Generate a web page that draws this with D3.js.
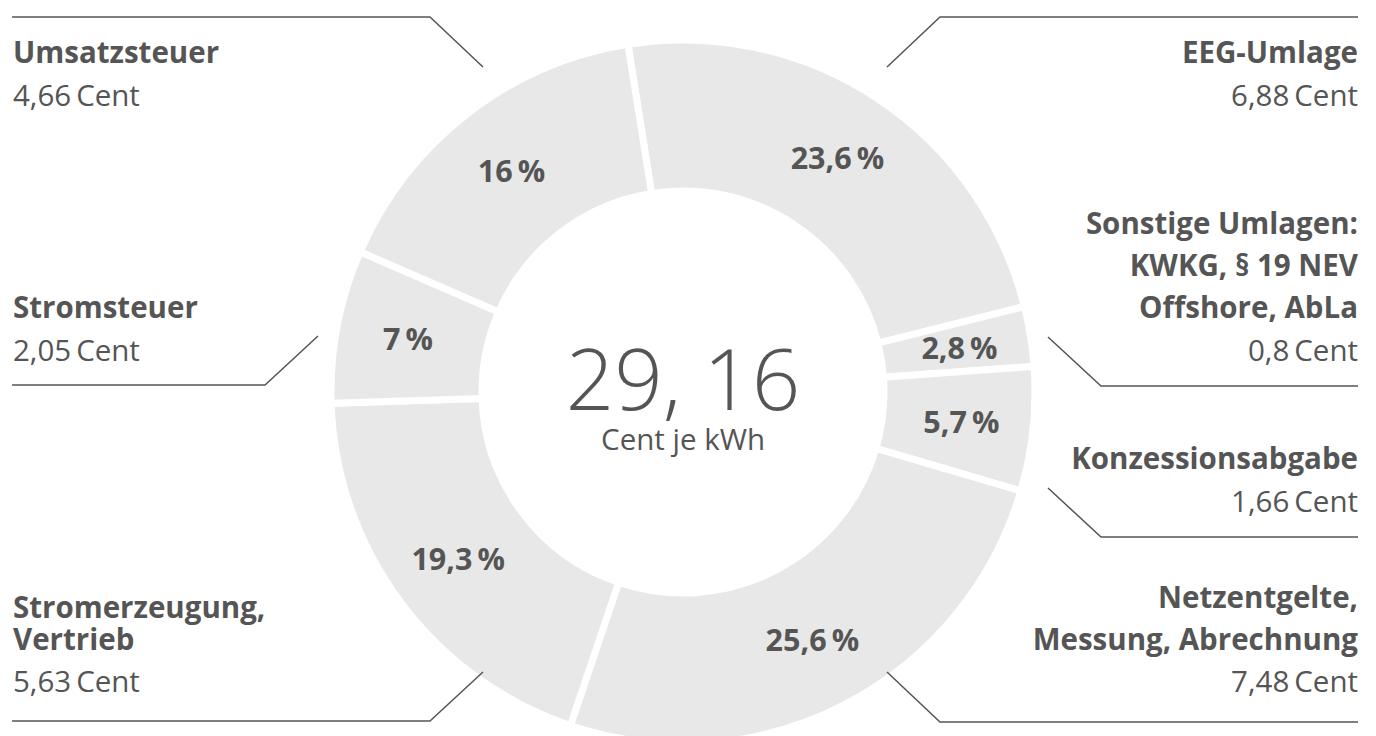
<!DOCTYPE html>
<html>
<head>
<meta charset="utf-8">
<script src="https://cdn.jsdelivr.net/npm/d3@7"></script>
<style>
  html, body { margin: 0; padding: 0; background: #fff; }
  svg text { font-family: "Open Sans", "Noto Sans", sans-serif; fill: #555555; }
  .title { font-weight: 700; font-size: 29.5px; }
  .cent { font-weight: 400; font-size: 29.5px; }
  .pct { font-weight: 700; font-size: 30.5px; }
</style>
</head>
<body>
<div class="graph"></div>
<script>
// data ------------------
const names = [
    ["EEG-Umlage"],
    ["Sonstige Umlagen:", "KWKG, § 19 NEV", "Offshore, AbLa"],
    ["Konzessionsabgabe"],
    ["Netzentgelte,", "Messung, Abrechnung"],
    ["Stromerzeugung,", "Vertrieb"],
    ["Stromsteuer"],
    ["Umsatzsteuer"]
]
const cents = [6.88, 0.8, 1.66, 7.48, 5.63, 2.05, 4.66]
const shares = [23.6, 2.8, 5.7, 25.6, 19.3, 7, 16]
const totalLabel = "29, 16"
const unitLabel = "Cent je kWh"

// layout of the callouts (tip near the ring, text baselines)
const callouts = [
    {side: "right", tip: [887, 67],   elbowY: 17,  lines: [63],            centY: 106},
    {side: "right", tip: [1048, 337], elbowY: 386, lines: [234, 276, 318], centY: 361},
    {side: "right", tip: [1048, 488], elbowY: 537, lines: [469],           centY: 512},
    {side: "right", tip: [887, 672],  elbowY: 722, lines: [608, 650],      centY: 692},
    {side: "left",  tip: [483, 672],  elbowY: 721, lines: [618, 650],      centY: 692},
    {side: "left",  tip: [318, 336],  elbowY: 385, lines: [318],           centY: 361},
    {side: "left",  tip: [483, 67],   elbowY: 17,  lines: [63],            centY: 106}
]

// config
const w = 1376
const h = 736
const cx = 683
const cy = 392
const rOuter = 352
const rInner = 201
const startAngle = -0.157
const colours = { slice: "#e8e8e8", line: "#555555" }

const rows = names.map((n, i) => ({name: n, cent: cents[i], share: shares[i], callout: callouts[i]}))

const pie = d3.pie()
    .value(d => d.cent)
    .sort(null)
    .startAngle(startAngle)
    .endAngle(startAngle + 2 * Math.PI)

const arc = d3.arc()
    .innerRadius(rInner)
    .outerRadius(rOuter)

const labelArc = d3.arc()
    .innerRadius(280)
    .outerRadius(280)

const fmt = v => String(v).replace(".", ",")

const svg = d3.select('.graph')
    .append('svg')
    .attr('width', w)
    .attr('height', h)
    .attr('viewBox', "0 0 " + w + " " + h)

const ring = svg.append('g')
    .attr('transform', 'translate(' + cx + ',' + cy + ')')

ring.selectAll('path.slice')
    .data(pie(rows))
    .join('path')
    .attr('class', 'slice')
    .attr('d', arc)
    .attr('fill', colours.slice)
    .attr('stroke', '#fff')
    .attr('stroke-width', 7)

ring.selectAll('text.pct')
    .data(pie(rows))
    .join('text')
    .attr('class', 'pct')
    .attr('transform', d => 'translate(' + labelArc.centroid(d) + ')')
    .attr('text-anchor', 'middle')
    .attr('dy', '0.36em')
    .text(d => fmt(d.data.share) + "\u2009%")

// centre total
ring.append('text')
    .attr('text-anchor', 'middle')
    .attr('y', 18)
    .style('font-size', '85px')
    .style('font-weight', 300)
    .text(totalLabel)

ring.append('text')
    .attr('text-anchor', 'middle')
    .attr('y', 58)
    .style('font-size', '29.5px')
    .style('font-weight', 400)
    .text(unitLabel)

// callouts
const left = 12
const right = 1358
const callout = svg.append('g')

callout.selectAll('path.leader')
    .data(rows)
    .join('path')
    .attr('class', 'leader')
    .attr('fill', 'none')
    .attr('stroke', colours.line)
    .attr('stroke-width', 1.5)
    .attr('d', d => {
        const c = d.callout
        const dir = c.side === "left" ? 1 : -1
        const ex = c.tip[0] - dir * 53
        return d3.line()([c.tip, [ex, c.elbowY], [c.side === "left" ? left : right, c.elbowY]])
    })

rows.forEach(d => {
    const c = d.callout
    const x = c.side === "left" ? left + 1 : right
    const anchor = c.side === "left" ? "start" : "end"
    d.name.forEach((line, i) => {
        callout.append('text')
            .attr('class', 'title')
            .attr('x', x)
            .attr('y', c.lines[i])
            .attr('text-anchor', anchor)
            .text(line)
    })
    callout.append('text')
        .attr('class', 'cent')
        .attr('x', x)
        .attr('y', c.centY)
        .attr('text-anchor', anchor)
        .text(fmt(d.cent) + "\u2009Cent")
})
</script>
</body>
</html>
